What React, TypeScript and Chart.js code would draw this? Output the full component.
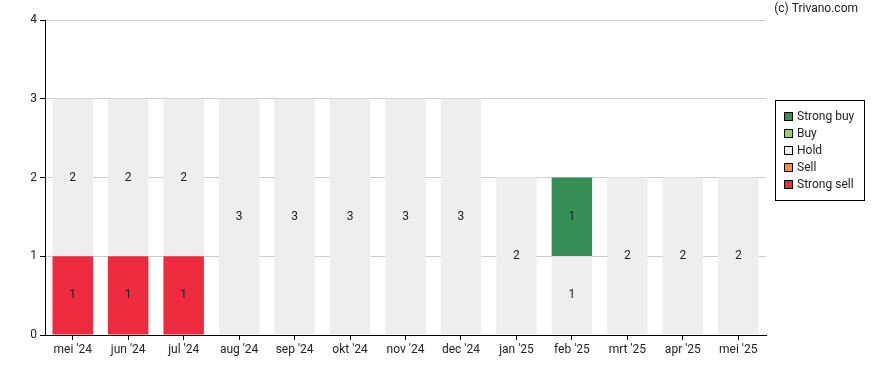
import React, { useEffect, useRef } from "react";
import { Chart, registerables } from "chart.js";

Chart.register(...registerables);

const categories = ["mei '24", "jun '24", "jul '24", "aug '24", "sep '24", "okt '24", "nov '24", "dec '24", "jan '25", "feb '25", "mrt '25", "apr '25", "mei '25"];
const strongBuy = [0, 0, 0, 0, 0, 0, 0, 0, 0, 1, 0, 0, 0];
const buy = [0, 0, 0, 0, 0, 0, 0, 0, 0, 0, 0, 0, 0];
const hold = [2, 2, 2, 3, 3, 3, 3, 3, 2, 1, 2, 2, 2];
const sell = [0, 0, 0, 0, 0, 0, 0, 0, 0, 0, 0, 0, 0];
const strongSell = [1, 1, 1, 0, 0, 0, 0, 0, 0, 0, 0, 0, 0];
const yTicks = [0, 1, 2, 3, 4];

const FONT = "Roboto, 'Noto Sans', sans-serif";
const TEXT = "#222222";

const seriesDefs = [
  { label: "Strong sell", data: strongSell, color: "#ee2b3e" },
  { label: "Sell", data: sell, color: "#f98e4a" },
  { label: "Hold", data: hold, color: "#eeeeee" },
  { label: "Buy", data: buy, color: "#98d26a" },
  { label: "Strong buy", data: strongBuy, color: "#368f55" },
];

const overlayPlugin = {
  id: "overlay",
  afterDatasetsDraw(chart: any) {
    const ctx = chart.ctx;
    ctx.save();
    ctx.font = `12px ${FONT}`;
    ctx.fillStyle = TEXT;
    ctx.textAlign = "center";
    ctx.textBaseline = "middle";
    chart.data.datasets.forEach((ds: any, di: number) => {
      const meta = chart.getDatasetMeta(di);
      meta.data.forEach((bar: any, i: number) => {
        const v = ds.data[i];
        if (!v) return;
        const y = (bar.y + bar.base) / 2;
        ctx.fillText(String(v), bar.x, y);
      });
    });
    ctx.restore();
  },
  afterDraw(chart: any) {
    const ctx = chart.ctx;
    ctx.save();
    ctx.font = `12px ${FONT}`;
    ctx.fillStyle = TEXT;
    ctx.textAlign = "right";
    ctx.textBaseline = "middle";
    ctx.fillText("(c) Trivano.com", 858, 9);
    const bx = 775.5, by = 100.5, bw = 89, bh = 100;
    ctx.fillStyle = "#ffffff";
    ctx.fillRect(bx, by, bw, bh);
    ctx.strokeStyle = "#000000";
    ctx.lineWidth = 1;
    ctx.strokeRect(bx, by, bw, bh);
    const items = [...seriesDefs].reverse();
    items.forEach((it, k) => {
      const cy = 117 + k * 17;
      ctx.fillStyle = it.color;
      ctx.fillRect(784.5, cy - 4.5, 8, 8);
      ctx.strokeStyle = "#000000";
      ctx.strokeRect(784.5, cy - 4.5, 8, 8);
      ctx.fillStyle = TEXT;
      ctx.textAlign = "left";
      ctx.textBaseline = "middle";
      ctx.font = `12px ${FONT}`;
      ctx.fillText(it.label, 797, cy);
    });
    ctx.restore();
  },
};

export default function App() {
  const ref = useRef<HTMLCanvasElement | null>(null);
  useEffect(() => {
    document.body.style.margin = "0";
    if (!ref.current) return;
    const chart = new Chart(ref.current, {
      type: "bar",
      data: {
        labels: categories,
        datasets: seriesDefs.map((s) => ({
          label: s.label,
          data: s.data,
          backgroundColor: s.color,
          borderWidth: 0,
          barPercentage: 0.73,
          categoryPercentage: 1,
        })),
      },
      options: {
        responsive: false,
        animation: false,
        layout: { padding: { top: 20, right: 122, left: 0, bottom: 0 } },
        plugins: {
          legend: { display: false },
          tooltip: { enabled: false },
        },
        scales: {
          x: {
            stacked: true,
            grid: { display: true, offset: false, drawOnChartArea: false, drawTicks: true, tickLength: 5, tickColor: "#000000" },
            border: { display: true, color: "#000000", width: 1 },
            ticks: { color: TEXT, font: { family: FONT, size: 12 }, padding: 3, maxRotation: 0, autoSkip: false },
            afterFit: (s: any) => { s.height = 35; },
          },
          y: {
            stacked: true,
            min: 0,
            max: 4,
            grid: { color: "#cccccc", tickLength: 5, tickColor: "#000000" },
            border: { display: true, color: "#000000", width: 1 },
            afterBuildTicks: (s: any) => { s.ticks = yTicks.map((v) => ({ value: v })); },
            ticks: { color: TEXT, font: { family: FONT, size: 12 }, padding: 3 },
            afterFit: (s: any) => { s.width = 45; },
          },
        },
      },
      plugins: [overlayPlugin],
    });
    return () => chart.destroy();
  }, []);
  return (
    <div style={{ position: "absolute", left: 0, top: 0, width: 888, height: 370, background: "#ffffff" }}>
      <canvas ref={ref} width={888} height={370} style={{ display: "block" }} />
    </div>
  );
}
